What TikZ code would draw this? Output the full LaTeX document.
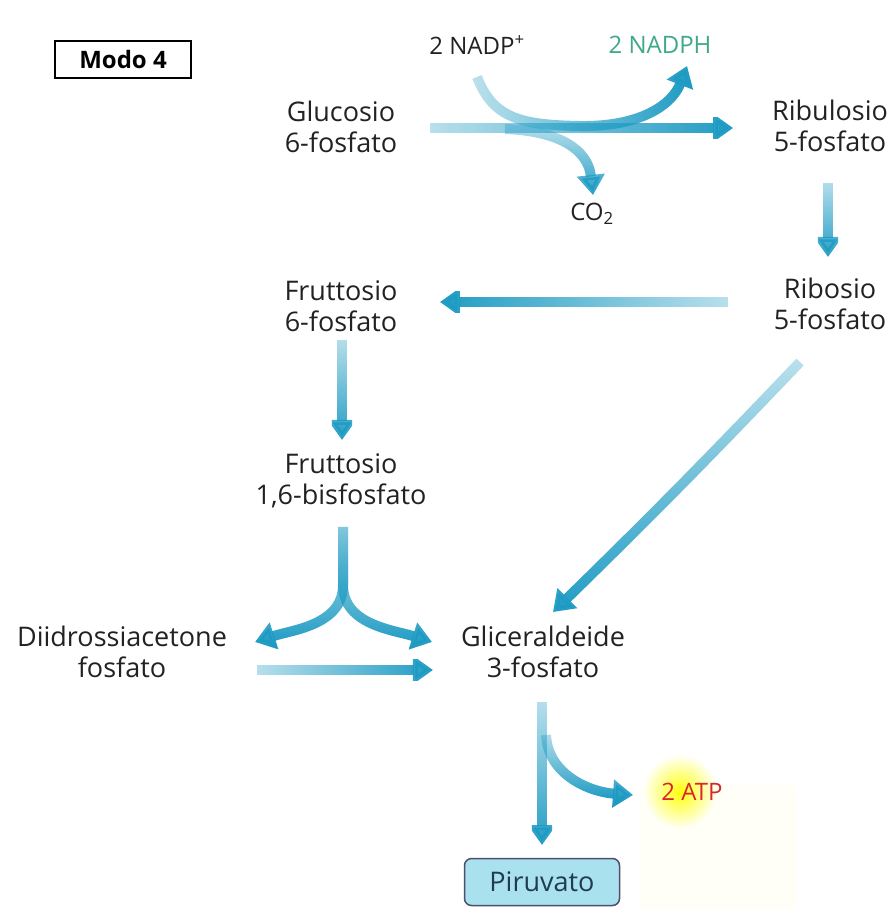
\documentclass[tikz,border=0pt]{standalone}
\usepackage{fontspec}
\setmainfont{Open Sans}
\usetikzlibrary{arrows.meta,calc,fadings,shapes.misc}
\definecolor{arrcol}{HTML}{1E9BC3}
\definecolor{nadphgreen}{HTML}{3FA88A}
\definecolor{atpred}{HTML}{D9262C}
\definecolor{pyrfill}{HTML}{A9E1EE}
\definecolor{pyrdraw}{HTML}{4E4E6E}
\definecolor{pyrtext}{HTML}{1F3D4F}
\definecolor{txt}{HTML}{222222}
\tikzfading[name=fE, left color=transparent!70, right color=transparent!0]
\tikzfading[name=fW, left color=transparent!0, right color=transparent!70]
\tikzfading[name=fS, top color=transparent!70, bottom color=transparent!0]
\tikzset{
  lbl/.style={inner sep=0pt, align=center, text=txt, font=\fontsize{27}{31}\selectfont},
  small/.style={inner sep=0pt, text=txt, font=\fontsize{24}{28}\selectfont},
  arr/.style={draw=arrcol, line width=10pt, -{Triangle[length=20pt,width=27pt]}},
}
\begin{document}
\begin{tikzpicture}[x=1pt,y=-1pt]
\useasboundingbox (0,0) rectangle (888,910);
\fill[white] (0,0) rectangle (888,910);
% faint background behind ATP
\fill[yellow!3] (640,785) rectangle (797,910);
\shade[inner color=yellow!95, outer color=white] (680,792) circle (38);

% nodes
\node[draw, line width=2pt, minimum width=136pt, minimum height=37pt, inner sep=0pt,
      font=\fontsize{24}{28}\selectfont\bfseries] (modo) at (123,59) {Modo 4};
\node[small] (nadp) at (477,45) {2 NADP\textsuperscript{+}};
\node[small, text=nadphgreen] (nadph) at (660,45) {2 NADPH};
\node[small] (co2) at (592,214) {CO\textsubscript{2}};
\node[lbl] (glu) at (341,127) {Glucosio\\6-fosfato};
\node[lbl] (rbu) at (830,126) {Ribulosio\\5-fosfato};
\node[lbl] (rbo) at (830,304) {Ribosio\\5-fosfato};
\node[lbl] (f6p) at (341,306) {Fruttosio\\6-fosfato};
\node[lbl] (fbp) at (341,481) {Fruttosio\\1,6-bisfosfato};
\node[lbl] (dhap) at (122,652) {Diidrossiacetone\\fosfato};
\node[lbl] (gap) at (543,652) {Gliceraldeide\\3-fosfato};
\node[small, text=atpred] (atp) at (692,792) {2 ATP};
\node[draw=pyrdraw, fill=pyrfill, line width=1.5pt, rounded corners=7pt,
      minimum width=155pt, minimum height=47pt, inner sep=0pt, text=pyrtext,
      font=\fontsize{27}{31}\selectfont] (pyr) at (542,882) {Piruvato};

% connectors
\draw[arr, path fading=fE] ($(glu.center)+(89,1)$) -- ($(rbu.center)+(-97,2)$);
\draw[arr, path fading=fE] ($(nadp.center)+(0,32)$)
   .. controls (493,118) and (520,125) .. (580,126)
   .. controls (640,127) and (672,105) .. ($(nadph.center)+(27,21)$);
\draw[arr, path fading=fS] ($(glu.center)+(164,2)$)
   .. controls (560,131) and (588,150) .. ($(co2.center)+(1,-19)$);
\draw[arr, path fading=fS] ($(rbu.center)+(-2,57)$) -- ($(rbo.center)+(-2,-47)$);
\draw[arr, path fading=fW] ($(rbo.center)+(-102,-2)$) -- ($(f6p.center)+(99,-4)$);
\draw[arr, path fading=fS] ($(f6p.center)+(1,34)$) -- ($(fbp.center)+(1,-41)$);
\draw[arr, path fading=fS] ($(rbo.center)+(-30,58)$) to[bend left=1] ($(gap.center)+(10,-40)$);
\draw[arr, path fading=fS] ($(fbp.center)+(2,46)$) -- (343,585)
   .. controls (343,625) and (292,630) .. ($(dhap.center)+(133,-10)$);
\draw[arr, path fading=fS] ($(fbp.center)+(2,46)$) -- (343,585)
   .. controls (343,625) and (394,630) .. ($(gap.center)+(-111,-10)$);
\draw[arr, path fading=fE] ($(dhap.center)+(135,18)$) -- ($(gap.center)+(-110,18)$);
\draw[arr, path fading=fS] ($(gap.center)+(-1,50)$) -- ($(pyr.center)+(0,-37)$);
\draw[arr, path fading=fS] ($(gap.center)+(3,83)$)
   .. controls (548,775) and (590,792) .. ($(atp.center)+(-59,3)$);
\end{tikzpicture}
\end{document}
